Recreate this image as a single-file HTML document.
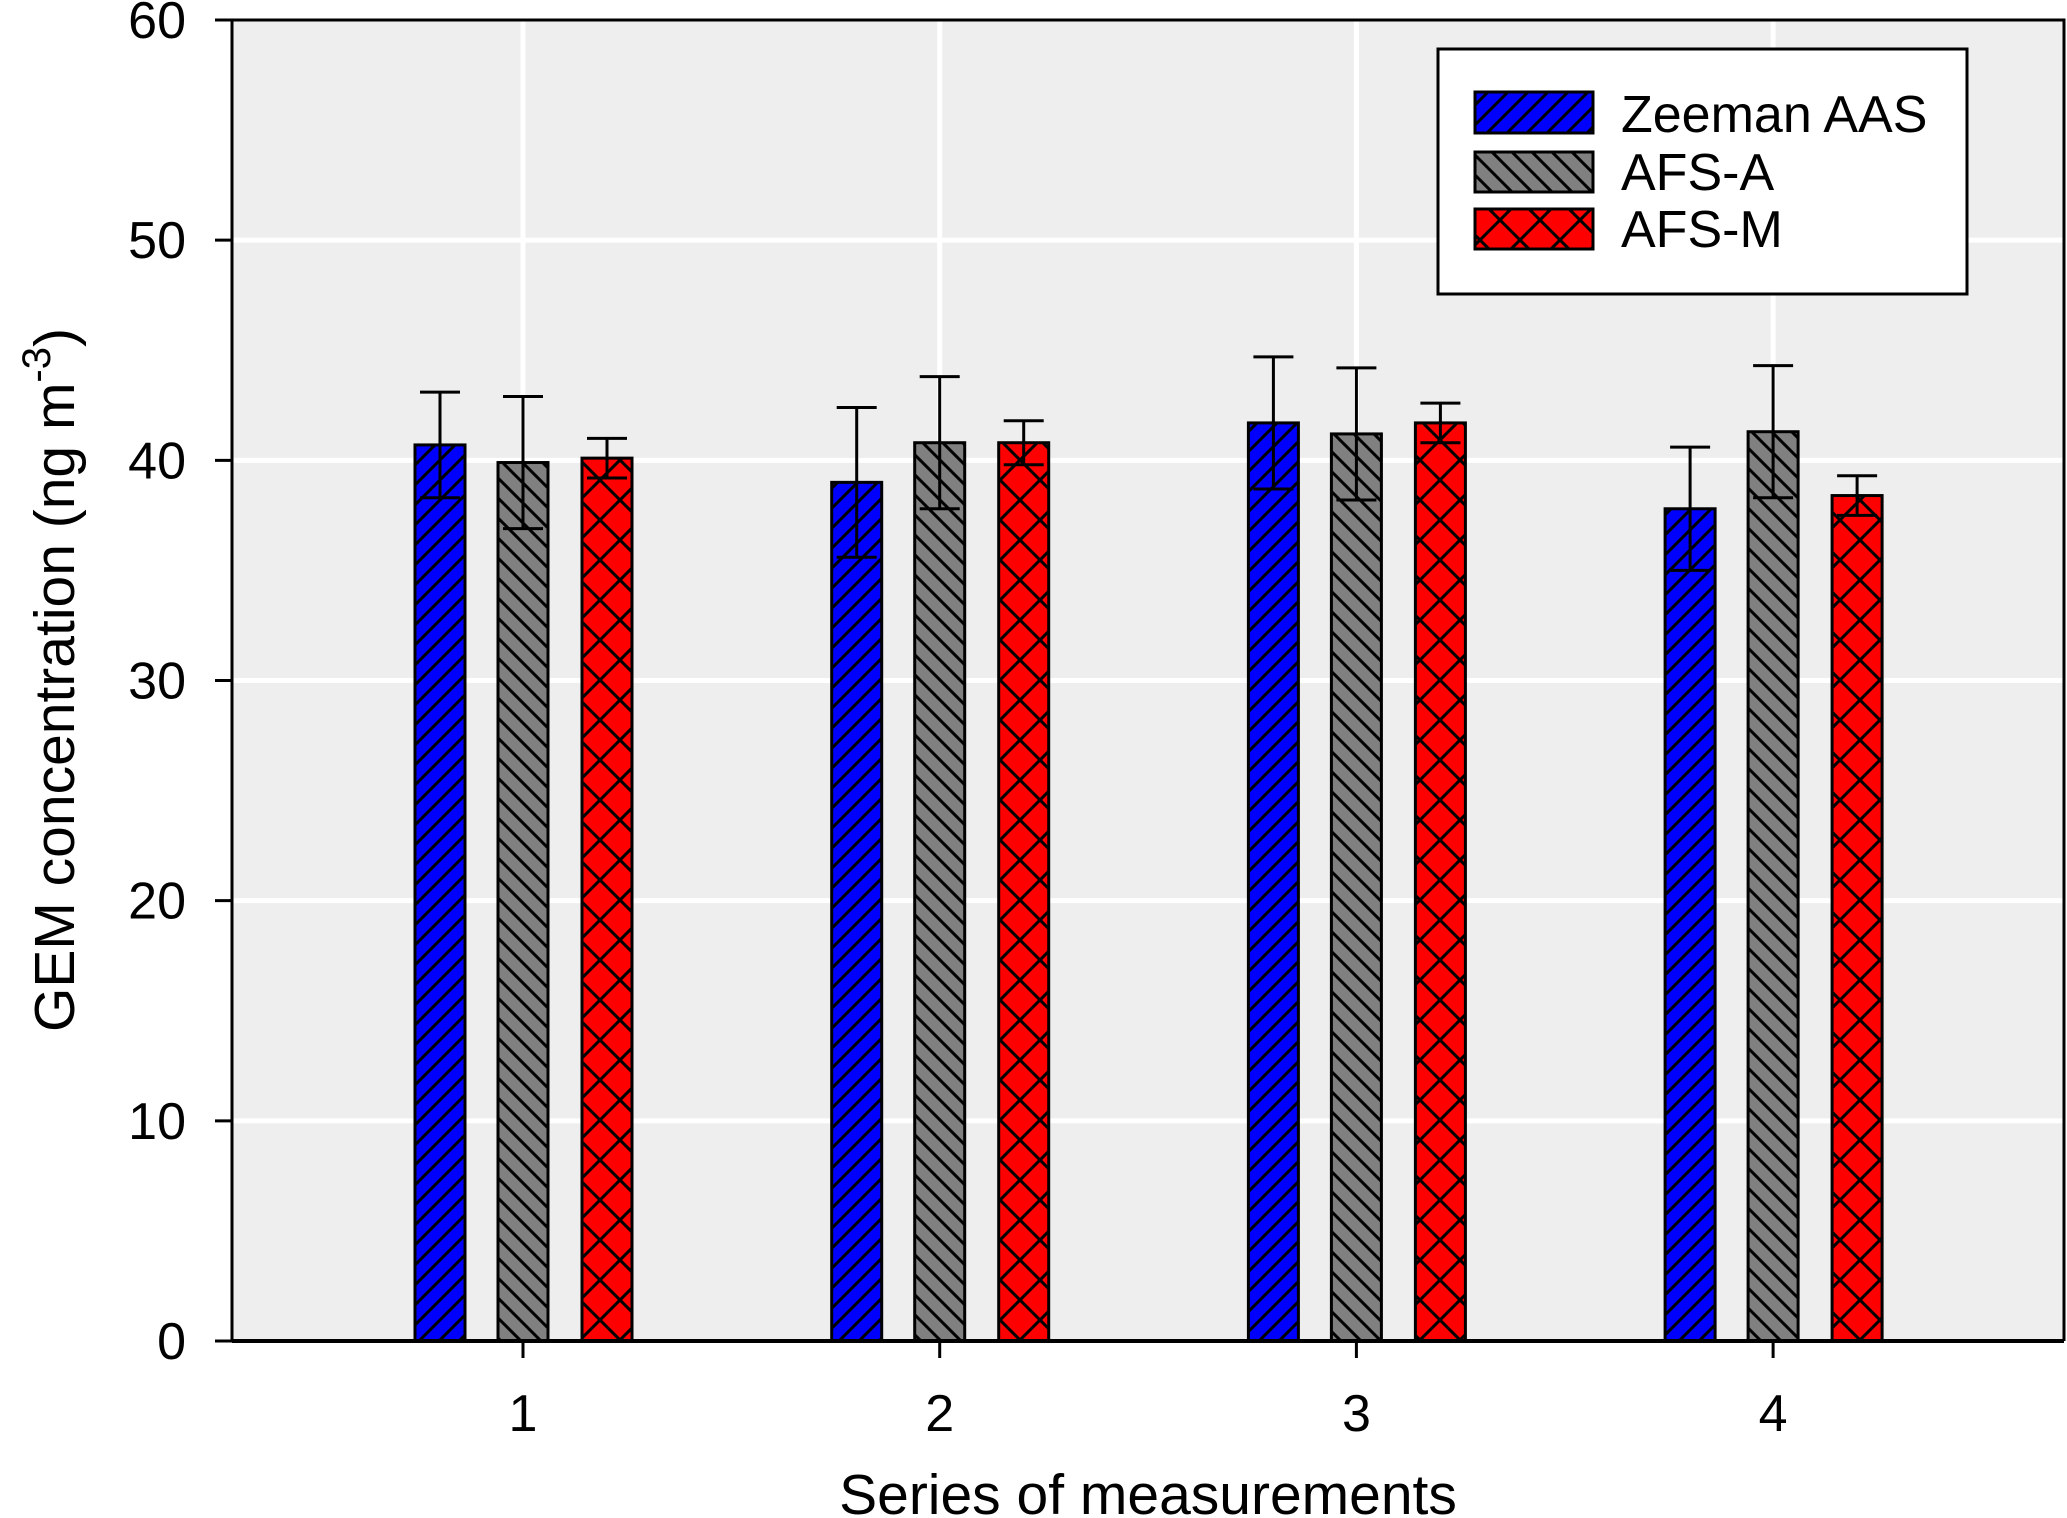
<!DOCTYPE html>
<html><head><meta charset="utf-8"><style>
html,body{margin:0;padding:0;background:#fff;}
svg{display:block;font-family:"Liberation Sans",Arial,sans-serif;}
</style></head><body>
<svg id="chart" width="2067" height="1518" viewBox="0 0 2067 1518">
<defs>
<pattern id="pBlue" patternUnits="userSpaceOnUse" width="20" height="20">
<rect width="20" height="20" fill="#0000ff"/>
<path d="M-5,25 L25,-5 M-5,5 L5,-5 M15,25 L25,15" stroke="#000" stroke-width="3"/>
</pattern>
<pattern id="pGray" patternUnits="userSpaceOnUse" width="20" height="20">
<rect width="20" height="20" fill="#808080"/>
<path d="M-5,-5 L25,25 M15,-5 L25,5 M-5,15 L5,25" stroke="#000" stroke-width="3"/>
</pattern>
<pattern id="pRed" patternUnits="userSpaceOnUse" width="40" height="40">
<rect width="40" height="40" fill="#ff0000"/>
<path d="M0,0 L40,40 M40,0 L0,40" stroke="#000" stroke-width="3"/>
</pattern>
</defs>
<rect x="232" y="20" width="1832" height="1321" fill="#eeeeee"/>
<g id="grid"></g>
<g id="bars"></g>
<g id="axes"></g>
<g>
<rect x="1438" y="49" width="529" height="245" fill="#fff" stroke="#000" stroke-width="3"/>
<rect x="1475" y="92" width="118" height="41" fill="url(#pBlue)" stroke="#000" stroke-width="3"/>
<rect x="1475" y="152" width="118" height="40" fill="url(#pGray)" stroke="#000" stroke-width="3"/>
<rect x="1475" y="209" width="118" height="40" fill="url(#pRed)" stroke="#000" stroke-width="3"/>
<text x="1621" y="132" font-size="52">Zeeman AAS</text>
<text x="1621" y="190" font-size="52">AFS-A</text>
<text x="1621" y="247" font-size="52">AFS-M</text>
</g>
<text x="1148" y="1514" font-size="57" text-anchor="middle">Series of measurements</text>
<text transform="translate(74,680) rotate(-90)" font-size="57" text-anchor="middle">GEM concentration (ng m<tspan dy="-24" font-size="40">-3</tspan><tspan dy="24">)</tspan></text>
</svg>
<script>
const categories = ["1","2","3","4"];
const seriesNames = ["Zeeman AAS","AFS-A","AFS-M"];
const zeemanValues = [40.7, 39.0, 41.7, 37.8];
const afsAValues = [39.9, 40.8, 41.2, 41.3];
const afsMValues = [40.1, 40.8, 41.7, 38.4];
const zeemanErr = [2.4, 3.4, 3.0, 2.8];
const afsAErr = [3.0, 3.0, 3.0, 3.0];
const afsMErr = [0.9, 1.0, 0.9, 0.9];
const yTicks = [0,10,20,30,40,50,60];

const NS="http://www.w3.org/2000/svg";
const X0=232,X1=2064,Y0=1341,Y1=20;
function yScale(v){return Y0-(v/60)*(Y0-Y1);}
function xScale(i){return 523+i*416.7;}
function mk(tag,attrs,parent){const e=document.createElementNS(NS,tag);for(const k in attrs)e.setAttribute(k,attrs[k]);parent.appendChild(e);return e;}
const grid=document.getElementById('grid'),bars=document.getElementById('bars'),axes=document.getElementById('axes');
yTicks.forEach(t=>{
  if(t>0&&t<60){const l=mk('line',{x1:X0,x2:X1,y1:yScale(t),y2:yScale(t),stroke:'#fff','stroke-width':5},grid);
  
  }
  const tk=mk('line',{x1:X0-17,x2:X0,y1:yScale(t),y2:yScale(t),stroke:'#000','stroke-width':3},axes);
  
  
  const tx=mk('text',{x:186,y:yScale(t)+18,'font-size':52,'text-anchor':'end'},axes);
  tx.textContent=t;
  
  
});
categories.forEach((c,i)=>{
  const l=mk('line',{x1:xScale(i),x2:xScale(i),y1:Y1,y2:Y0,stroke:'#fff','stroke-width':5},grid);
  
  
  const tk=mk('line',{x1:xScale(i),x2:xScale(i),y1:Y0,y2:Y0+17,stroke:'#000','stroke-width':3},axes);
  
  
  const tx=mk('text',{x:xScale(i),y:1431,'font-size':52,'text-anchor':'middle'},axes);
  tx.textContent=c;
  
  
});
const series=[[zeemanValues,zeemanErr,'url(#pBlue)',-83,'zeeman'],[afsAValues,afsAErr,'url(#pGray)',0,'afs-a'],[afsMValues,afsMErr,'url(#pRed)',84,'afs-m']];
series.forEach(([vals,errs,fill,off,nm])=>{
  vals.forEach((v,i)=>{
    const cx=xScale(i)+off,w=50;
    const r=mk('rect',{x:cx-w/2,y:yScale(v),width:w,height:Y0-yScale(v),fill:fill,stroke:'#000','stroke-width':3},bars);
    
    
    const lo=yScale(v-errs[i]),hi=yScale(v+errs[i]);
    const g=mk('path',{d:`M${cx},${lo}V${hi}M${cx-20},${hi}H${cx+20}M${cx-20},${lo}H${cx+20}`,stroke:'#000','stroke-width':3,fill:'none'},bars);
    
    
  });
});
const fr=mk('path',{d:`M${X0},${Y1}H${X1}V${Y0}M${X0},${Y1}V${Y0}`,stroke:'#000','stroke-width':3,fill:'none'},axes);


const xa=mk('line',{x1:X0,x2:X1,y1:Y0,y2:Y0,stroke:'#000','stroke-width':4},axes);


</script>
</body></html>
